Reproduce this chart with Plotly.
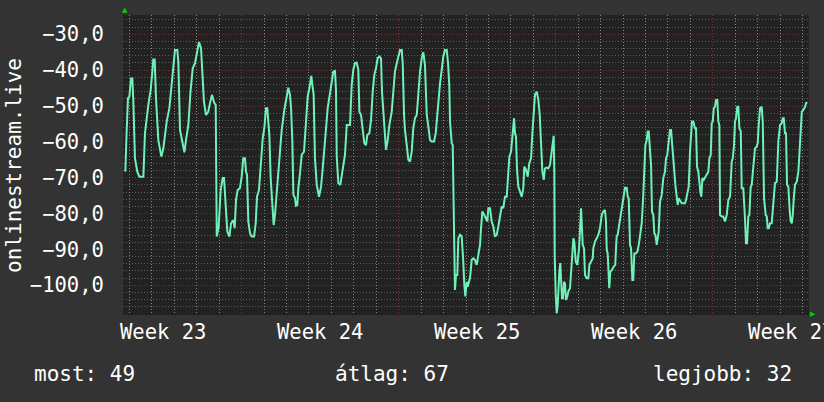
import pandas as pd
import plotly.graph_objects as go

# ---------------- data ----------------
start_time = "2025-06-03 17:00"
span_hours = 734

# hours since start_time
hours = [
    2.5, 3.2, 3.9, 5.3, 6.8, 8.6, 10.0, 11.0, 12.8, 15.3, 17.5, 21.8, 23.5, 27.1, 29.6, 31.4,
    32.4, 33.9, 35.3, 37.8, 41.0, 43.2, 46.8, 49.6, 51.4, 53.2, 55.6, 58.1, 59.2, 61.0, 63.9,
    65.7, 67.4, 69.9, 72.1, 74.6, 77.0, 79.5, 81.3, 83.5, 85.2, 86.6, 88.8, 91.2, 93.1, 95.2,
    97.7, 99.2, 100.3, 102.4, 104.5, 106.7, 108.1, 109.5, 111.6, 113.8, 115.6, 118.1, 119.5,
    120.9, 122.7, 125.1,
    127.0, 128.7, 130.5, 131.6, 132.7, 134.1, 135.9, 137.7, 140.2, 142.0, 143.4, 145.5, 147.7,
    149.5, 151.2, 153.0, 154.4, 155.5, 156.6, 158.0, 159.8, 161.2, 162.6, 164.8, 167.3, 169.8,
    172.6, 175.1, 176.9, 178.7, 179.8, 181.2, 182.3, 184.0, 185.1, 186.5, 187.6, 189.4, 191.2,
    193.7, 195.5, 197.6, 200.1, 201.5, 202.6, 204.0, 205.4, 207.3, 209.7, 211.9, 213.7, 215.4,
    217.2, 219.0, 221.5, 223.3, 225.0, 226.8, 227.9, 228.7, 230.4, 232.5, 234.0, 235.7, 237.5,
    239.4, 242.9, 244.7,
    246.4, 248.2, 250.0, 251.8, 252.9, 254.7, 256.5, 258.2, 260.0, 261.4, 263.6, 265.4, 267.2,
    268.9, 270.7, 272.5, 274.3, 276.1, 277.1, 278.5, 280.3, 281.4, 283.2, 285.0, 287.5, 289.2,
    291.0, 292.9, 294.6, 296.4, 298.2, 299.3, 300.7, 301.7, 303.6, 305.3, 307.1, 308.9, 310.6,
    312.4, 314.3, 316.0, 317.8, 319.6, 321.3, 323.1, 324.2, 325.0, 326.7, 328.5, 330.3, 332.8,
    334.6, 336.3, 338.1, 339.2, 341.0, 342.7, 344.5, 346.4, 347.8, 349.1, 349.9, 351.7, 352.8,
    353.4, 354.2, 355.2, 356.3, 357.7, 358.8, 360.6, 362.4, 363.5, 364.1, 365.2, 366.3, 367.8,
    368.8, 370.2, 371.3, 373.1, 374.8, 376.6, 378.5, 380.2, 382.0, 383.1, 384.5, 386.6, 388.4,
    389.8, 390.9, 392.7, 394.5, 396.2, 398.0, 399.9, 401.6, 403.4, 405.2, 406.9, 408.7, 410.6,
    411.6, 413.4, 415.2, 417.0, 418.4, 419.4, 420.5, 421.6, 423.0, 424.8, 426.6, 428.3, 429.4,
    431.2, 433.0, 434.7, 436.6, 438.0, 439.4, 440.8, 442.7, 444.4, 445.9, 447.3, 448.7, 450.2,
    451.5, 453.4, 455.1, 456.9, 458.7, 459.8, 460.8, 461.5, 461.9, 463.0, 464.1, 465.1, 465.8,
    466.9, 467.9, 468.7, 469.7, 470.8, 471.9, 472.9, 474.0, 475.4, 476.5, 478.3, 480.1, 481.2,
    481.9, 482.9, 484.4, 486.1, 488.0, 489.0, 490.1,
    491.9, 493.3, 494.3, 496.2, 497.9, 499.0, 500.8, 502.6, 503.2, 505.0, 506.9, 508.6, 510.4,
    512.2, 513.9, 515.7, 516.8, 517.6, 518.6, 519.7, 520.3, 521.4, 523.2, 525.0, 526.7, 527.5,
    528.2, 529.3, 530.4, 531.8, 533.6, 535.3, 537.1, 539.0, 540.0, 541.1, 542.5, 543.6, 545.0,
    546.0, 547.1, 548.6, 550.4, 552.1, 553.2, 555.0, 556.7, 557.8, 558.9, 560.4, 561.4, 562.5,
    563.2, 563.9, 565.0, 566.0, 567.4, 568.5, 569.6, 571.1, 572.1, 573.2, 574.6, 576.4, 578.1,
    579.9, 581.0, 582.4, 583.5, 585.3, 586.4, 587.4, 588.8, 589.9, 591.0, 592.4, 593.5, 594.5,
    596.0, 597.8, 599.5, 601.3, 602.4, 603.8, 605.3, 606.7, 607.8, 608.8, 610.2, 612.0,
    613.1, 614.2, 615.6, 616.7, 617.7, 618.8, 619.9, 621.3, 622.7, 624.6, 626.3, 627.4, 628.9,
    629.9, 631.0, 632.1, 633.4, 634.5, 635.9, 637.0, 638.1, 638.8, 640.6, 642.3, 644.1, 646.0,
    647.7, 649.5, 651.3, 652.4, 653.8, 654.8, 655.9, 657.3, 658.4, 659.5, 661.0, 662.0, 663.7,
    665.5, 666.6, 667.7, 669.1, 670.2, 671.6, 672.7, 673.8, 675.2, 676.2, 678.1, 679.1, 680.2,
    681.6, 683.4, 684.5, 685.9, 687.7, 688.8, 689.8, 690.9, 692.3, 694.1, 695.8, 697.6, 699.5,
    701.2, 703.0, 704.8, 705.9, 707.0, 708.3, 709.4, 710.5, 711.9, 713.4, 714.5, 715.6, 716.6,
    717.7, 719.0, 720.9, 722.6, 723.7, 724.8, 726.3, 728.0, 729.9, 730.8, 732.2,
]

rank = [
    -68.3, -58.1, -57.1, -47.8, -47.4, -42.3, -42.3, -48.3, -64.6, -68.3, -69.7, -69.7, -57.6,
    -49.7, -45.5, -40.4, -37.0, -37.0, -47.8, -59.5, -64.1, -61.8, -54.3, -50.6, -45.5, -39.5,
    -34.4, -34.4, -37.6, -56.7, -60.4, -62.9, -59.5, -55.3, -46.4, -39.5, -38.1, -33.9, -32.2,
    -33.9, -44.6, -48.8, -52.5, -51.6, -49.2, -46.9, -49.2, -49.7, -86.4, -83.6, -73.4, -70.1,
    -70.1, -77.6, -85.0, -86.4, -82.7, -81.8, -84.1, -76.2, -73.4, -72.9,
    -69.7, -64.6, -64.6, -68.3, -69.2, -82.2, -85.5, -86.4, -86.4, -82.7, -75.3, -73.4, -64.6,
    -59.0, -56.2, -50.6, -50.6, -56.2, -58.1, -70.1, -78.0, -83.2, -80.4, -73.9, -64.1, -56.7,
    -51.1, -47.4, -44.9, -46.9, -50.6, -59.9, -74.8, -75.7, -77.8, -77.6, -72.9, -68.8, -63.6,
    -62.7, -54.8, -47.4, -44.1, -41.6, -44.1, -46.9, -64.6, -72.0, -75.3, -72.5, -67.4, -62.2,
    -56.2, -50.6, -46.4, -43.7, -40.4, -40.2, -45.5, -64.1, -71.5, -72.0, -69.7, -67.4, -63.6,
    -55.3, -55.3, -44.1,
    -39.9, -38.1, -37.9, -39.9, -51.6, -52.5, -56.7, -60.4, -60.9, -58.1, -57.6, -53.9, -46.0,
    -41.3, -39.5, -36.7, -36.2, -36.7, -46.0, -51.6, -58.1, -62.2, -59.5, -55.3, -51.6, -46.9,
    -40.4, -38.1, -35.8, -34.4, -34.4, -38.1, -52.5, -56.7, -60.9, -65.0, -65.5, -62.7, -56.2,
    -53.4, -52.5, -45.1, -40.4, -36.7, -35.0, -38.6, -46.0, -52.5, -55.7, -59.5, -59.9, -59.9,
    -57.6, -51.6, -47.8, -43.7, -39.9, -36.2, -34.4, -34.4, -38.1, -44.1, -54.3, -60.4, -60.9,
    -69.2, -82.2, -101.3, -97.1, -97.1, -86.9, -85.9, -86.4, -89.7, -93.4, -99.9, -103.1, -99.0,
    -100.4, -99.0, -98.0, -92.9, -92.5, -92.9, -94.3, -91.5, -88.7, -84.1, -79.4, -80.4, -81.3,
    -82.2, -78.5, -78.5, -82.2, -83.6, -86.4, -85.9, -83.6, -80.4, -78.0, -78.5, -75.3, -75.3,
    -70.1, -64.1, -62.7, -57.6, -53.4, -57.6, -58.5, -67.8, -72.5, -73.9, -75.3, -72.9, -66.9,
    -67.8, -69.7, -66.0, -64.6, -57.6, -50.6, -46.9, -46.0, -48.3, -52.5, -59.5, -68.3, -70.6,
    -67.4, -67.2, -67.4, -66.4, -63.2, -59.9, -58.3, -68.3, -91.5, -102.7, -107.8, -105.5, -99.0,
    -96.2, -93.8, -99.0, -103.6, -103.6, -99.0, -99.5, -104.1, -103.1, -101.7, -100.8, -95.2, -89.7,
    -86.9, -87.8, -93.4, -94.3, -89.7, -85.0, -78.5,
    -88.7, -89.7, -97.1, -98.0, -98.0, -94.3, -93.4, -92.5, -89.7, -87.8, -86.9, -85.9, -84.1,
    -80.4, -79.4, -79.0, -82.2, -90.1, -91.1, -100.4, -100.8, -96.2, -95.7, -94.8, -94.3, -89.7,
    -86.4, -85.9, -84.1, -81.8, -78.5, -75.3, -72.8, -72.8, -75.3, -75.7, -88.7, -89.7, -98.5,
    -98.5, -91.1, -91.1, -90.6, -88.3, -85.9, -82.7, -74.8, -67.4, -60.9, -59.5, -57.1, -57.1,
    -59.9, -65.0, -66.4, -79.4, -80.4, -85.5, -85.9, -88.7, -86.4, -85.0, -76.7, -74.8, -70.1,
    -68.3, -64.6, -63.6, -60.9, -56.7, -56.7, -59.5, -63.6, -68.3, -72.0, -75.7, -77.6, -75.7,
    -76.2, -77.1, -77.1, -77.1, -76.2, -73.9, -72.5, -62.7, -56.7, -54.3, -54.3, -56.2,
    -56.2, -66.9, -68.3, -72.9, -73.9, -75.3, -70.1, -70.6, -70.0, -69.2, -68.3, -64.6, -63.6,
    -54.8, -54.3, -50.6, -50.2, -48.3, -48.3, -54.3, -55.3, -80.4, -80.8, -80.8, -82.2, -80.4,
    -76.2, -75.3, -65.5, -64.6, -60.9, -54.3, -53.4, -50.2, -50.2, -56.2, -57.1, -72.9, -72.9,
    -81.3, -88.3, -88.3, -80.8, -80.4, -72.5, -72.0, -68.3, -66.0, -61.8, -61.3, -60.4, -55.3,
    -50.6, -50.2, -54.3, -75.7, -80.4, -80.8, -84.1, -84.1, -82.7, -82.7, -77.1, -71.5, -71.1,
    -59.9, -55.3, -54.8, -53.4, -53.4, -57.6, -57.6, -72.0, -72.5, -79.4, -82.2, -82.7, -80.4,
    -75.7, -72.0, -71.1, -68.3, -63.6, -58.1, -51.6, -51.1, -50.2, -49.2, -49.0,
]

week_start0 = "2025-06-02"
week_label_times = ["2025-06-05 12:00", "2025-06-12 12:00", "2025-06-19 12:00",
                    "2025-06-26 12:00", "2025-07-03 12:00"]
week_labels = ["Week 23", "Week 24", "Week 25", "Week 26", "Week 27"]

y_title = "onlinestream.live"
y_range = [-108.28, -24.62]

stat_names = ["most", "átlag", "legjobb"]
stat_values = [49, 67, 32]

# ---------------- figure ----------------
FONT = "DejaVu Sans Mono"
TXT = "#ffffff"
FS = 20.5
MAJOR = "rgba(215,60,60,0.52)"
MINOR = "rgba(150,150,150,0.50)"
MINOR_X = "rgba(165,165,165,0.75)"
DASH = "1px,2px"
DAY_MS = 86400000

t0 = pd.Timestamp(start_time)
t1 = t0 + pd.Timedelta(hours=span_hours)
times = t0 + pd.to_timedelta(hours, unit="h")
x_range = [t0, t1]

fig = go.Figure()
# visible series on the grid axis
fig.add_trace(go.Scatter(
    x=times, y=rank, mode="lines", xaxis="x", yaxis="y",
    line=dict(color="#6ff2b9", width=2),
    hoverinfo="skip", showlegend=False,
))
# same series, transparent, so the label axis is laid out too
fig.add_trace(go.Scatter(
    x=times, y=rank, mode="lines", xaxis="x2", yaxis="y",
    line=dict(color="rgba(0,0,0,0)", width=0),
    hoverinfo="skip", showlegend=False,
))

fig.update_layout(
    width=824, height=402,
    margin=dict(l=123, r=15, t=15, b=87, autoexpand=False),
    paper_bgcolor="#333333",
    plot_bgcolor="#222222",
    separators=", ",
    showlegend=False,
    font=dict(family=FONT, size=FS, color=TXT),
    # grid axis: weekly red lines, daily gray lines
    xaxis=dict(
        type="date", range=x_range, automargin=False,
        tickmode="linear", tick0=week_start0, dtick=7 * DAY_MS,
        showticklabels=False, ticks="",
        showgrid=True, gridcolor=MAJOR, gridwidth=1, griddash=DASH,
        minor=dict(tickmode="linear", tick0=week_start0, dtick=DAY_MS, showgrid=True,
                   gridcolor=MINOR_X, gridwidth=1, griddash=DASH, ticks=""),
        zeroline=False, showline=False, fixedrange=True,
    ),
    # label axis
    xaxis2=dict(
        type="date", range=x_range, overlaying="x", anchor="y", side="bottom",
        automargin=False,
        tickmode="array", tickvals=week_label_times, ticktext=week_labels,
        showgrid=False, zeroline=False, showline=False,
        ticks="", ticklen=0, ticklabelstandoff=2,
        ticklabeloverflow="allow",
        tickfont=dict(family=FONT, size=FS, color=TXT),
        fixedrange=True,
    ),
    yaxis=dict(
        range=y_range, automargin=False,
        tickmode="linear", tick0=-100, dtick=10, tickformat=".1f",
        showgrid=True, gridcolor=MAJOR, gridwidth=1, griddash=DASH,
        minor=dict(tickmode="linear", tick0=-100, dtick=2, showgrid=True,
                   gridcolor=MINOR, gridwidth=1, griddash=DASH, ticks=""),
        zeroline=False, showline=False,
        ticks="outside", ticklen=14, tickcolor="rgba(0,0,0,0)",
        tickfont=dict(family=FONT, size=FS, color=TXT),
        fixedrange=True,
    ),
)

annotations = [
    dict(text=y_title, xref="paper", yref="paper", x=-0.159, y=0.5,
         textangle=-90, showarrow=False, xanchor="center", yanchor="middle",
         font=dict(family=FONT, size=21, color=TXT)),
    dict(text=f"{stat_names[0]}: {stat_values[0]}", xref="paper", yref="paper",
         x=-0.1326, y=-0.197, xanchor="left", yanchor="middle", showarrow=False,
         font=dict(family=FONT, size=21, color=TXT)),
    dict(text=f"{stat_names[1]}: {stat_values[1]}", xref="paper", yref="paper",
         x=0.3062, y=-0.197, xanchor="left", yanchor="middle", showarrow=False,
         font=dict(family=FONT, size=21, color=TXT)),
    dict(text=f"{stat_names[2]}: {stat_values[2]}", xref="paper", yref="paper",
         x=0.9781, y=-0.197, xanchor="right", yanchor="middle", showarrow=False,
         font=dict(family=FONT, size=21, color=TXT)),
    dict(text="▲", xref="paper", yref="paper", x=0.003, y=1.017,
         xanchor="center", yanchor="middle", showarrow=False,
         font=dict(family="DejaVu Sans", size=7, color="#00d000")),
    dict(text="▶", xref="paper", yref="paper", x=1.006, y=0.004,
         xanchor="center", yanchor="middle", showarrow=False,
         font=dict(family="DejaVu Sans", size=7, color="#00d000")),
]
fig.update_layout(annotations=annotations)

fig.write_html("out.html", config={"displayModeBar": False, "staticPlot": True})
